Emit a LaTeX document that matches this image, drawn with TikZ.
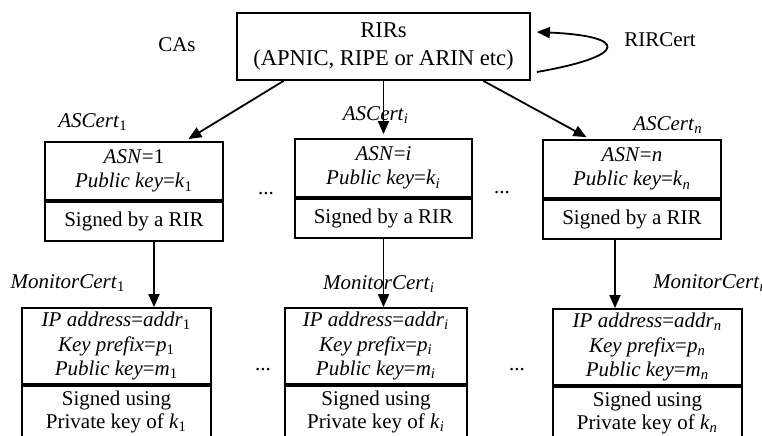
\documentclass[tikz,border=0pt]{standalone}
\usepackage{fontspec}
\setmainfont{Liberation Serif}
\usetikzlibrary{positioning, arrows.meta}

\begin{document}
\begin{tikzpicture}[x=0.5pt,y=-0.5pt,
  font=\fontsize{10.5}{12.25}\selectfont,
  box/.style={draw,line width=0.9pt,inner sep=0pt,align=center},
  astop/.style={box,minimum width=89pt,minimum height=29pt},
  asbot/.style={box,minimum width=89pt,minimum height=19.5pt},
  montop/.style={box,minimum width=94.5pt,minimum height=38pt},
  monbot/.style={box,minimum width=94.5pt,minimum height=26pt,font=\fontsize{10.5}{11.5}\selectfont},
  arr/.style={line width=0.9pt,-{Triangle[width=5.5pt,length=6.5pt]}}]
\path[use as bounding box,clip] (0,0) rectangle (762,435);

% top level
\node[box,minimum width=146.5pt,minimum height=33.5pt,font=\fontsize{11.3}{13.5}\selectfont] (rir) at (383.5,46.5) {RIRs\\(APNIC, RIPE or ARIN etc)};
\node (cas) at (177,45) {CAs};
\node (rircert) at (660,40) {RIRCert};
\draw[line width=0.9pt,-{Triangle[width=5.5pt,length=6.5pt]}] ([xshift=3pt,yshift=-12.75pt]rir.east) .. controls +(46pt,8pt) and +(46pt,-2pt) .. ([xshift=3pt,yshift=7.25pt]rir.east);

% AS certificates
\node[astop] (as1top) at (134,171) {\textit{ASN}=1\\\textit{Public key}=\textit{k}\textsubscript{1}};
\node[asbot,below=0pt of as1top] (as1bot) {Signed by a RIR};
\node[astop,minimum width=88.5pt] (asitop) at (383.5,168) {\textit{ASN}=\textit{i}\\\textit{Public key}=\textit{k}\textsubscript{\textit{i}}};
\node[asbot,minimum width=88.5pt,below=0pt of asitop] (asibot) {Signed by a RIR};
\node[astop] (asntop) at (632,169) {\textit{ASN}=\textit{n}\\\textit{Public key}=\textit{k}\textsubscript{\textit{n}}};
\node[asbot,below=0pt of asntop] (asnbot) {Signed by a RIR};

\node (ascert1) at (93,122) {\textit{ASCert}\textsubscript{1}};
\node (ascerti) at (376,115) {\textit{ASCert}\textsubscript{\textit{i}}};
\node (ascertn) at (668,125) {\textit{ASCert}\textsubscript{\textit{n}}};
\node (asdots1) at (266,194) {...};
\node (asdots2) at (502,193) {...};

\draw[arr,shorten >=2pt] (rir.199) -- ([xshift=25.5pt]as1top.north);
\draw[arr,shorten >=2pt] (rir.south) -- (asitop.north);
\draw[arr,shorten >=2pt] (rir.-19) -- ([xshift=-21pt]asntop.north);

% monitor certificates
\node[montop] (mon1top) at (116.5,346) {\textit{IP address}=\textit{addr}\textsubscript{1}\\\textit{Key prefix}=\textit{p}\textsubscript{1}\\\textit{Public key}=\textit{m}\textsubscript{1}};
\node[monbot,below=0pt of mon1top] (mon1bot) {Signed using\\Private key of \textit{k}\textsubscript{1}};
\node[montop,minimum width=91pt] (monitop) at (376,346) {\textit{IP address}=\textit{addr}\textsubscript{\textit{i}}\\\textit{Key prefix}=\textit{p}\textsubscript{\textit{i}}\\\textit{Public key}=\textit{m}\textsubscript{\textit{i}}};
\node[monbot,minimum width=91pt,below=0pt of monitop] (monibot) {Signed using\\Private key of \textit{k}\textsubscript{\textit{i}}};
\node[montop] (monntop) at (647.5,347) {\textit{IP address}=\textit{addr}\textsubscript{\textit{n}}\\\textit{Key prefix}=\textit{p}\textsubscript{\textit{n}}\\\textit{Public key}=\textit{m}\textsubscript{\textit{n}}};
\node[monbot,below=0pt of monntop] (monnbot) {Signed using\\Private key of \textit{k}\textsubscript{\textit{n}}};

\node (moncert1) at (68,283) {\textit{MonitorCert}\textsubscript{1}};
\node (moncerti) at (379,284) {\textit{MonitorCert}\textsubscript{\textit{i}}};
\node[anchor=west] (moncertn) at (646,283) {\textit{MonitorCert}\textsubscript{\textit{n}}};
\node (mondots1) at (263,370) {...};
\node (mondots2) at (517,370) {...};

\coordinate (d1) at ([xshift=10pt]as1bot.south);
\coordinate (di) at (asibot.south);
\coordinate (dn) at ([xshift=-8.5pt]asnbot.south);
\draw[arr] (d1) -- (d1 |- mon1top.north);
\draw[arr] (di) -- (di |- monitop.north);
\draw[arr] (dn) -- (dn |- monntop.north);
\end{tikzpicture}
\end{document}
